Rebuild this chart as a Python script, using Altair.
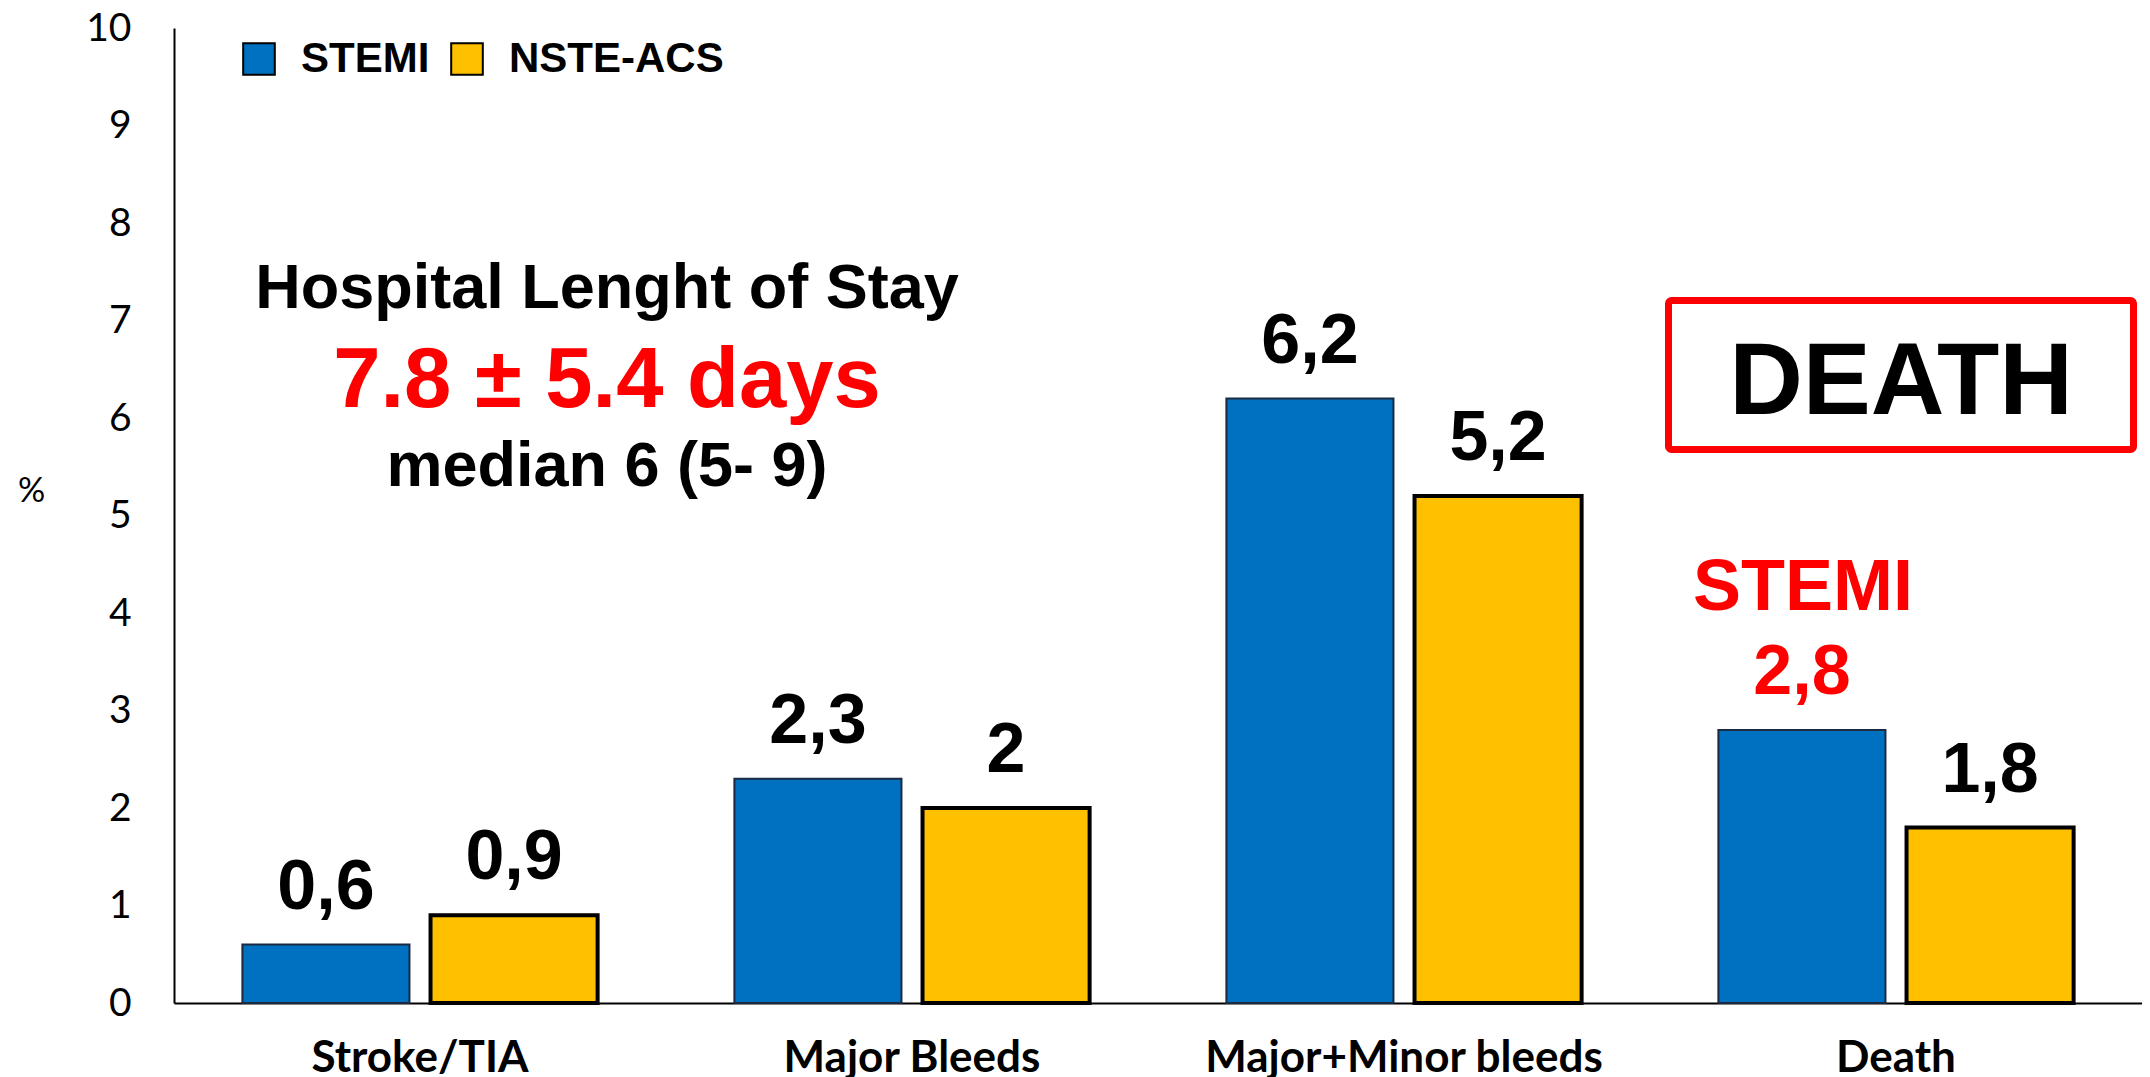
import altair as alt
import pandas as pd

categories = ["Stroke/TIA", "Major Bleeds", "Major+Minor bleeds", "Death"]
series = ["STEMI", "NSTE-ACS"]
stemi_values = [0.6, 2.3, 6.2, 2.8]
nste_values = [0.9, 2.0, 5.2, 1.8]
stemi_labels = ["0,6", "2,3", "6,2", "2,8"]
nste_labels = ["0,9", "2", "5,2", "1,8"]
y_ticks = list(range(0, 11))
series_colors = ["#0070C0", "#FFC000"]

rows = []
for i, c in enumerate(categories):
    rows.append(dict(category=c, series="STEMI", value=stemi_values[i],
                     label=stemi_labels[i], highlight=(c == "Death")))
    rows.append(dict(category=c, series="NSTE-ACS", value=nste_values[i],
                     label=nste_labels[i], highlight=False))
df = pd.DataFrame(rows)

x_enc = alt.X(
    "category:N", sort=categories,
    scale=alt.Scale(paddingInner=0.278, paddingOuter=0.139),
    axis=alt.Axis(title=None, labelAngle=0, labelFont="Lato", labelFontWeight="bold",
                  labelFontSize=44, labelColor="black", labelPadding=33, ticks=False,
                  labelLimit=0, domainColor="black", domainWidth=2),
)
xoff = alt.XOffset("series:N", sort=series,
                   scale=alt.Scale(paddingInner=0.112, paddingOuter=0))
y_enc = alt.Y(
    "value:Q", scale=alt.Scale(domain=[0, 10], nice=False),
    axis=alt.Axis(values=y_ticks, title="%", titleAngle=0, titleX=-143, titleY=463,
                  titleAlign="center", titleBaseline="middle",
                  titleFont="Lato", titleFontSize=34, titleFontWeight="normal",
                  titleColor="black", labelFont="Lato", labelFontSize=39,
                  labelColor="black", labelPadding=43, ticks=False, grid=False,
                  domainColor="black", domainWidth=2),
)

bars = alt.Chart(df).mark_bar().encode(
    x=x_enc, xOffset=xoff, y=y_enc,
    fill=alt.Fill("series:N", sort=series,
                  scale=alt.Scale(domain=series, range=series_colors),
                  legend=alt.Legend(orient="none", legendX=64, legendY=10,
                                    direction="horizontal", title=None,
                                    symbolType="square", symbolSize=1000,
                                    symbolStrokeColor="black", symbolStrokeWidth=2,
                                    labelFont="Liberation Sans", labelFontWeight="bold",
                                    labelFontSize=42, labelColor="black", labelLimit=0,
                                    labelOffset=21, columnPadding=16)),
    stroke=alt.condition("datum.series == 'STEMI'", alt.value("#1B2A41"), alt.value("#000000")),
    strokeWidth=alt.condition("datum.series == 'STEMI'", alt.value(2), alt.value(4)),
)

labels = alt.Chart(df).mark_text(
    font="Liberation Sans", fontWeight="bold", fontSize=70,
    baseline="alphabetic", dy=-36,
).encode(
    x=x_enc, xOffset=xoff, y=y_enc, text="label:N",
    color=alt.condition("datum.highlight", alt.value("#FF0000"), alt.value("#000000")),
)


def note(text, x, y, size, color="black"):
    return alt.Chart(pd.DataFrame({"t": [text]})).mark_text(
        font="Liberation Sans", fontWeight="bold", fontSize=size, color=color,
        align="center", baseline="alphabetic",
    ).encode(text="t:N", x=alt.value(x), y=alt.value(y))


box = alt.Chart(pd.DataFrame({"b": [1]})).mark_rect(
    filled=False, stroke="#FF0000", strokeWidth=7, cornerRadius=3,
).encode(x=alt.value(1494.5), x2=alt.value(1959.5), y=alt.value(272.5), y2=alt.value(421.5))

chart = alt.layer(
    bars, labels,
    note("Hospital Lenght of Stay", 433, 280, 63),
    note("7.8 ± 5.4 days", 433, 379, 85, "#FF0000"),
    note("median 6 (5- 9)", 433, 458, 63),
    box,
    note("DEATH", 1727, 386, 102),
    note("STEMI", 1629, 582, 72, "#FF0000"),
).properties(
    width=1968, height=975,
    autosize=alt.AutoSizeParams(type="none"),
    padding={"left": 166, "top": 20, "right": 0, "bottom": 76},
).configure_view(stroke=None)

chart.save("out.html", embed_options={"renderer": "svg", "actions": False})
